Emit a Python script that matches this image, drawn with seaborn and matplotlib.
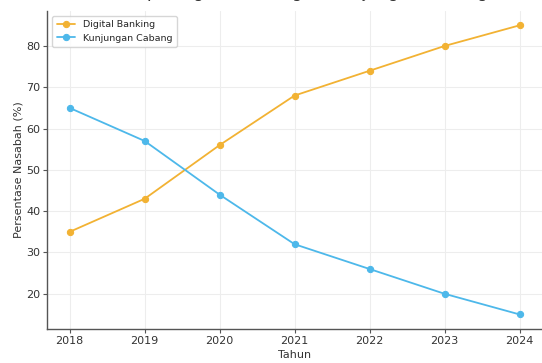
import pandas as pd
import matplotlib
matplotlib.use("Agg")
import matplotlib.pyplot as plt
import seaborn as sns

# --- data ---
tahun = [2018, 2019, 2020, 2021, 2022, 2023, 2024]
digital_banking = [35, 43, 56, 68, 74, 80, 85]
kunjungan_cabang = [65, 57, 44, 32, 26, 20, 15]
series_names = ["Digital Banking", "Kunjungan Cabang"]
series_colors = ["#F2B233", "#4DB8EA"]

df = pd.DataFrame({
    "Tahun": tahun * 2,
    "Persentase": digital_banking + kunjungan_cabang,
    "Kategori": [series_names[0]] * len(tahun) + [series_names[1]] * len(tahun),
})

sns.set_style("whitegrid", {
    "grid.color": "#ededed",
    "axes.edgecolor": "#555555",
    "xtick.bottom": True,
    "ytick.left": True,
})
plt.rcParams["font.family"] = ["DejaVu Sans"]

fig, ax = plt.subplots(figsize=(5.42, 3.63), dpi=100)
fig.subplots_adjust(left=0.087, right=1.0, bottom=0.094, top=0.970)

sns.lineplot(
    data=df, x="Tahun", y="Persentase", hue="Kategori",
    palette=series_colors, marker="o", markersize=4.5,
    markeredgecolor=None, linewidth=1.3, ax=ax,
)

ax.set_xticks(tahun)
ax.set_xticklabels([str(t) for t in tahun], fontsize=8, color="#333333")
ax.tick_params(axis="y", labelsize=8, labelcolor="#333333")
ax.tick_params(length=3, width=0.8, color="#555555", pad=2)
ax.set_xlabel("Tahun", fontsize=8, color="#333333", labelpad=3)
ax.set_ylabel("Persentase Nasabah (%)", fontsize=8, color="#333333", labelpad=2)
ax.set_xlim(2017.7, 2024.3)
ax.set_ylim(11.5, 88.5)

for side in ["top", "right"]:
    ax.spines[side].set_visible(False)
for side in ["left", "bottom"]:
    ax.spines[side].set_linewidth(1.0)

ax.legend(title=None, loc="upper left", fontsize=6.8, frameon=True,
          borderpad=0.5, handlelength=2, labelspacing=0.45)

# title sits mostly above the visible area, as in the reference crop
fig.text(0.52, 1.008, "Tren Adopsi Digital Banking vs Kunjungan Cabang",
         ha="center", va="baseline", fontsize=12, color="#333333")

plt.savefig("out.png", dpi=100)
